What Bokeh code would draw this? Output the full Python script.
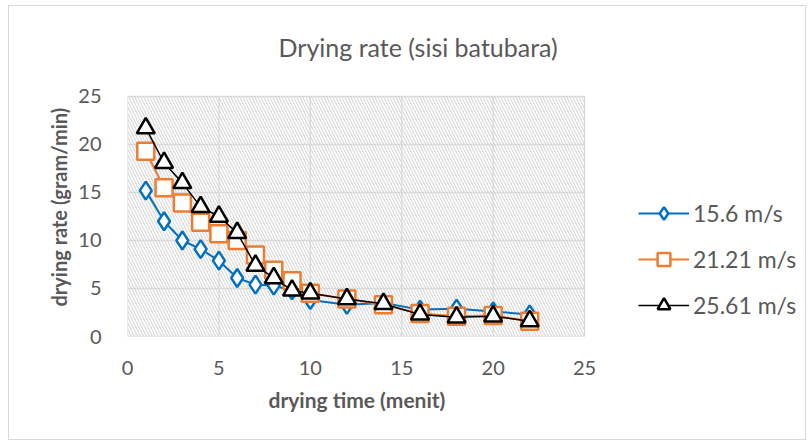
from bokeh.plotting import figure
from bokeh.models import Range1d, BoxAnnotation, Legend, LegendItem, FixedTicker, Label, Title
from bokeh.embed import file_html
from bokeh.resources import INLINE

# data
time_min = [1, 2, 3, 4, 5, 6, 7, 8, 9, 10, 12, 14, 16, 18, 20, 22]
rate_15_6 = [15.2, 12.0, 10.0, 9.1, 7.9, 6.1, 5.4, 5.3, 4.8, 3.8, 3.3, 3.5, 2.8, 2.9, 2.6, 2.3]
rate_21_21 = [19.3, 15.5, 13.9, 11.9, 10.7, 10.0, 8.5, 6.9, 5.8, 4.5, 3.9, 3.3, 2.4, 2.1, 2.2, 1.6]
rate_25_61 = [21.7, 18.1, 16.0, 13.5, 12.5, 10.8, 7.4, 6.1, 4.8, 4.5, 3.9, 3.4, 2.3, 2.0, 2.1, 1.6]
series_labels = ["15.6 m/s", "21.21 m/s", "25.61 m/s"]
title_text = "Drying rate (sisi batubara)"
x_label = "drying time (menit)"
y_label = "drying rate (gram/min)"
x_ticks = [0, 5, 10, 15, 20, 25]
y_ticks = [0, 5, 10, 15, 20, 25]

FONT = "Lato"
GRAY = "#595959"
GRID = "#d9d9d9"

# frame extends right/up beyond the data area to host the legend and title
p = figure(width=798, height=435, output_backend="svg", toolbar_location=None,
           x_range=Range1d(0, 37.14), y_range=Range1d(0, 34.27),
           min_border_left=118, min_border_right=1, min_border_top=1, min_border_bottom=105,
           margin=(5, 0, 0, 8))
p.styles = {"border": "1px solid #d9d9d9"}
p.outline_line_color = None
p.background_fill_color = "white"
p.xgrid.visible = False
p.ygrid.visible = False

x0, x1 = x_ticks[0], x_ticks[-1]
y0, y1 = y_ticks[0], y_ticks[-1]

hatch = BoxAnnotation(left=x0, right=x1, bottom=y0, top=y1, fill_alpha=0,
                      line_color=GRID, line_width=1, hatch_pattern="\\", hatch_color="#dadada",
                      hatch_scale=6, hatch_weight=1.2, level="underlay")
p.add_layout(hatch)

# gridlines drawn from the tick arrays, limited to the data area
p.segment(x0=x_ticks, y0=[y0] * len(x_ticks), x1=x_ticks, y1=[y1] * len(x_ticks),
          line_color=GRID, line_width=1.3)
p.segment(x0=[x0] * len(y_ticks), y0=y_ticks, x1=[x1] * len(y_ticks), y1=y_ticks,
          line_color=GRID, line_width=1.3)

for ax in (p.xaxis[0], p.yaxis[0]):
    ax.axis_line_color = None
    ax.major_tick_line_color = None
    ax.minor_tick_line_color = None
    ax.major_label_text_font = FONT
    ax.major_label_text_font_size = "20px"
    ax.major_label_text_color = GRAY

p.xaxis.ticker = FixedTicker(ticks=x_ticks)
p.yaxis.ticker = FixedTicker(ticks=y_ticks)
p.xaxis.bounds = (x0, x1)
p.yaxis.bounds = (y0, y1)
p.xaxis.major_label_standoff = 18
p.yaxis.major_label_standoff = 20

xt = Title(text=x_label, align="left", offset=141, standoff=15, text_font=FONT,
           text_font_size="21px", text_font_style="bold", text_color=GRAY)
p.add_layout(xt, "below")
yt = Title(text=y_label, align="left", offset=30, standoff=9, text_font=FONT,
           text_font_size="20px", text_font_style="bold", text_color=GRAY)
p.add_layout(yt, "left")

l1 = p.line(time_min, rate_15_6, line_color="#0070C0", line_width=2)
m1 = p.scatter(time_min, rate_15_6, marker="diamond", size=18, line_color="#0070C0",
               line_width=2.5, fill_color="white")
l2 = p.line(time_min, rate_21_21, line_color="#ED7D31", line_width=2)
m2 = p.scatter(time_min, rate_21_21, marker="square", size=17, line_color="#ED7D31",
               line_width=2.5, fill_color="white")
l3 = p.line(time_min, rate_25_61, line_color="black", line_width=1.5)
m3 = p.scatter(time_min, rate_25_61, marker="triangle", size=18, line_color="black",
               line_width=2.5, fill_color="white")

title = Label(x=15.9, y=30.2, text=title_text, text_font=FONT, text_font_size="25px",
              text_color=GRAY, text_align="center", text_baseline="middle")
p.add_layout(title)

legend = Legend(items=[
    LegendItem(label=series_labels[0], renderers=[l1, m1]),
    LegendItem(label=series_labels[1], renderers=[l2, m2]),
    LegendItem(label=series_labels[2], renderers=[l3, m3]),
], location=(511, 15))
legend.border_line_color = None
legend.background_fill_alpha = 0
legend.padding = 0
legend.margin = 0
legend.glyph_width = 51
legend.glyph_height = 32
legend.spacing = 14
legend.label_standoff = 4
legend.label_text_font = FONT
legend.label_text_font_size = "23px"
legend.label_text_color = GRAY
p.add_layout(legend)

open("out.html", "w").write(file_html(p, INLINE))
